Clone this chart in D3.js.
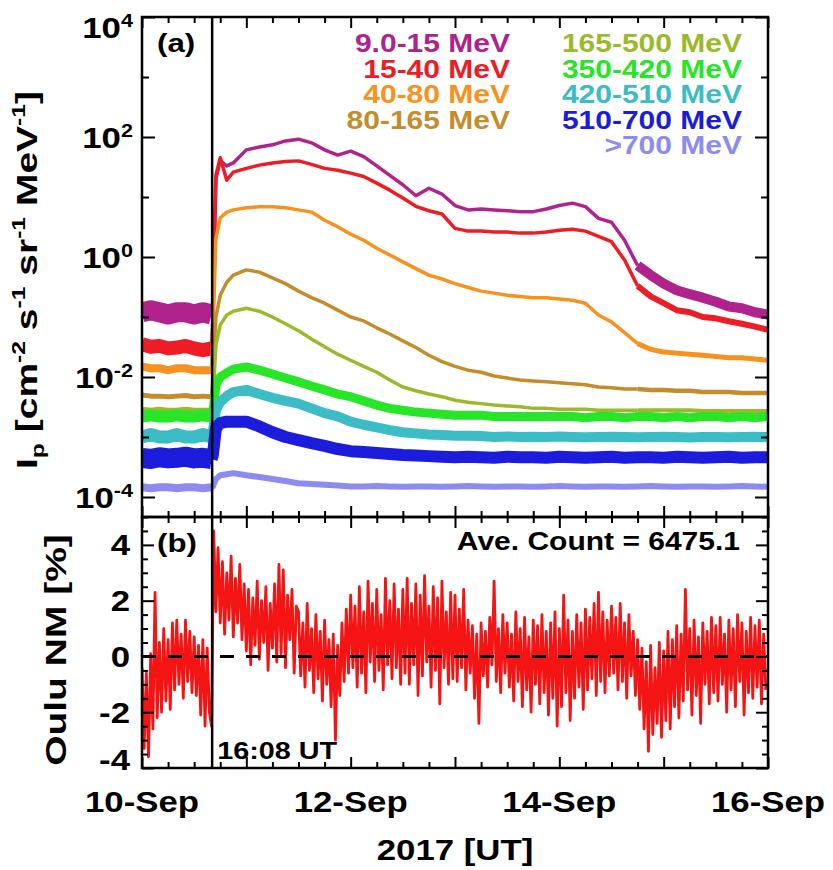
<!DOCTYPE html>
<html>
<head>
<meta charset="utf-8">
<script src="https://cdn.jsdelivr.net/npm/d3@7"></script>
<style>
  body { margin: 0; background: #fff; }
  svg { display: block; }
  text { font-family: "Liberation Sans", Arial, Helvetica, sans-serif; font-weight: bold; fill: #000; }
</style>
</head>
<body>
<svg id="chart" width="833" height="870"></svg>
<script>
// hours since 10-Sep-2017 00:00 UT
const hours = [0, 2, 4, 6, 8, 10, 12, 14, 16, 16.3, 17, 18, 19.5, 21,
  24, 27, 30, 33, 36, 39, 42, 45, 48, 51, 54, 57, 60, 63, 66, 69, 72, 75, 78, 81,
  84, 87, 90, 93, 96, 99, 102, 105, 108, 111, 114, 117, 120, 123, 126, 129, 132,
  135, 138, 141, 144];

// proton intensities, cm^-2 s^-1 sr^-1 MeV^-1
const p9to15 = [0.12, 0.13, 0.12, 0.11, 0.12, 0.12, 0.11, 0.12, 0.11, 0.2, 20, 40, 33, 37,
  61, 68, 74, 86, 92, 80, 61, 50, 58, 47, 33, 23, 16, 10.5, 14, 11.2, 7.2, 6.1, 6.3, 6.1,
  5.9, 5.7, 5.7, 6.3, 7.2, 7.9, 6.9, 4.4, 3.8, 1.9, 0.72, 0.5, 0.36, 0.28, 0.24, 0.21, 0.18,
  0.15, 0.14, 0.12, 0.11];
const p15to40 = [0.035, 0.032, 0.033, 0.030, 0.031, 0.033, 0.030, 0.028, 0.030, 0.1, 23, 45, 19, 26,
  30, 34, 37, 39, 40, 35, 30, 28, 25, 22, 17, 13, 9.6, 7.0, 5.9, 5.2, 3.0, 2.7, 2.7, 2.6,
  2.6, 2.5, 2.5, 2.6, 2.8, 2.9, 2.7, 2.2, 1.8, 0.89, 0.33, 0.22, 0.17, 0.13, 0.12, 0.10, 0.095,
  0.085, 0.077, 0.069, 0.061];
const p40to80 = [0.015, 0.014, 0.014, 0.013, 0.014, 0.014, 0.013, 0.013, 0.013, 0.05, 2.0, 4.5, 5.6, 6.1,
  6.6, 6.9, 6.9, 6.6, 6.1, 5.6, 4.1, 3.2, 2.4, 1.9, 1.4, 1.08, 0.83, 0.64, 0.50, 0.43, 0.36, 0.31, 0.27, 0.25,
  0.23, 0.22, 0.21, 0.21, 0.20, 0.19, 0.17, 0.108, 0.083, 0.055, 0.036, 0.029, 0.026, 0.025, 0.024, 0.023, 0.022,
  0.021, 0.021, 0.020, 0.019];
const p80to165 = [0.0050, 0.0048, 0.0048, 0.0047, 0.0048, 0.0049, 0.0047, 0.0048, 0.0047, 0.01, 0.1, 0.23, 0.38, 0.50,
  0.61, 0.56, 0.45, 0.36, 0.27, 0.21, 0.17, 0.13, 0.10, 0.086, 0.066, 0.052, 0.040, 0.031, 0.023, 0.018, 0.015, 0.013, 0.012, 0.0104,
  0.0096, 0.0089, 0.0086, 0.0083, 0.0080, 0.0077, 0.0074, 0.0068, 0.0066, 0.0063, 0.0063, 0.0061, 0.0061, 0.0059, 0.0059, 0.0056, 0.0056,
  0.0056, 0.0054, 0.0054, 0.0054];
const p165to500 = [0.0029, 0.0028, 0.0029, 0.0028, 0.0028, 0.0029, 0.0028, 0.0028, 0.0028, 0.004, 0.034, 0.074, 0.108, 0.125,
  0.14, 0.125, 0.10, 0.077, 0.059, 0.043, 0.032, 0.024, 0.019, 0.015, 0.012, 0.0089, 0.0068, 0.0059, 0.0052, 0.0047, 0.0041, 0.0038, 0.0036, 0.0034,
  0.0033, 0.0032, 0.0030, 0.0030, 0.0029, 0.0029, 0.0029, 0.0028, 0.0028, 0.0028, 0.0028, 0.0028, 0.0028, 0.0028, 0.0028, 0.0027, 0.0027,
  0.0027, 0.0027, 0.0027, 0.0027];
const p350to420 = [0.0022, 0.0023, 0.0022, 0.0022, 0.0023, 0.0022, 0.0022, 0.0023, 0.0022, 0.0025, 0.0074, 0.0100, 0.0118, 0.0135,
  0.0147, 0.013, 0.0112, 0.0096, 0.0083, 0.0071, 0.0061, 0.0052, 0.0047, 0.0040, 0.0034, 0.0030, 0.0028, 0.0026, 0.0025, 0.0024, 0.0023, 0.0023, 0.0023, 0.0022,
  0.0022, 0.0022, 0.0022, 0.0022, 0.0022, 0.0022, 0.0021, 0.0022, 0.0022, 0.0021, 0.0022, 0.0022, 0.0021, 0.0022, 0.0021, 0.0022, 0.0022,
  0.0021, 0.0022, 0.0021, 0.0022];
const p420to510 = [0.0010, 0.0011, 0.0010, 0.0010, 0.0011, 0.0010, 0.0010, 0.0011, 0.0010, 0.0012, 0.0028, 0.0038, 0.0048, 0.0056,
  0.0061, 0.0052, 0.0045, 0.0040, 0.0036, 0.0030, 0.0025, 0.0022, 0.0018, 0.0016, 0.00145, 0.0013, 0.0012, 0.00115, 0.0011, 0.00108, 0.00105, 0.00105, 0.00104, 0.0010,
  0.00102, 0.0010, 0.00101, 0.0010, 0.00102, 0.0010, 0.00099, 0.0010, 0.00101, 0.0010, 0.00099, 0.0010, 0.00101, 0.0010, 0.00098, 0.0010, 0.0010,
  0.00099, 0.0010, 0.00101, 0.0010];
const p510to700 = [4.5e-4, 4.3e-4, 4.6e-4, 4.4e-4, 4.5e-4, 4.7e-4, 4.4e-4, 4.5e-4, 4.3e-4, 5e-4, 1.4e-3, 1.7e-3, 1.8e-3, 1.8e-3,
  1.8e-3, 1.5e-3, 1.2e-3, 1.0e-3, 8.9e-4, 7.9e-4, 7.1e-4, 6.3e-4, 5.8e-4, 5.6e-4, 5.4e-4, 5.2e-4, 5.0e-4, 4.9e-4, 4.8e-4, 4.7e-4, 4.6e-4, 4.7e-4, 4.6e-4, 4.5e-4,
  4.7e-4, 4.6e-4, 4.6e-4, 4.5e-4, 4.7e-4, 4.6e-4, 4.5e-4, 4.6e-4, 4.7e-4, 4.5e-4, 4.6e-4, 4.6e-4, 4.5e-4, 4.7e-4, 4.6e-4, 4.5e-4, 4.6e-4,
  4.7e-4, 4.5e-4, 4.6e-4, 4.6e-4];
const p700up = [1.45e-4, 1.4e-4, 1.45e-4, 1.45e-4, 1.4e-4, 1.45e-4, 1.45e-4, 1.4e-4, 1.45e-4, 1.5e-4, 2.0e-4, 2.3e-4, 2.4e-4, 2.5e-4,
  2.3e-4, 2.15e-4, 2.0e-4, 1.85e-4, 1.7e-4, 1.65e-4, 1.6e-4, 1.55e-4, 1.5e-4, 1.5e-4, 1.52e-4, 1.5e-4, 1.48e-4, 1.5e-4, 1.5e-4, 1.48e-4, 1.5e-4, 1.52e-4, 1.5e-4, 1.48e-4,
  1.5e-4, 1.5e-4, 1.48e-4, 1.5e-4, 1.52e-4, 1.5e-4, 1.48e-4, 1.5e-4, 1.5e-4, 1.48e-4, 1.5e-4, 1.52e-4, 1.5e-4, 1.48e-4, 1.5e-4, 1.5e-4, 1.48e-4,
  1.5e-4, 1.52e-4, 1.5e-4, 1.48e-4];

const channelNames = ["9.0-15 MeV", "15-40 MeV", "40-80 MeV", "80-165 MeV", "165-500 MeV",
  "350-420 MeV", "420-510 MeV", "510-700 MeV", ">700 MeV"];

// Oulu neutron monitor, % deviation from the average, every 30 min from 10-Sep 00:00
const ouluNM = [
  -0.4, -3.3, -0.6, -3.6, 0.1, -2.6, 2.3, -2.2, 0.5, -2.0, 1.0, -1.6, 0.6, -1.9, 1.2, -1.2, 1.3, -1.0, 0.8, -1.5, 1.3, -0.9, 0.9, -1.3,
  0.7, -1.4, 0.4, -2.1, 0.6, -2.5, 0.3, -2.0, -2.5, 4.5, 1.6, 3.9, 1.2, 3.4, 0.8, 3.0, 1.3, 3.6, 0.7, 2.8, 1.2, 3.3, 0.6, 2.6,
  0.2, 2.4, -0.3, 2.1, 0.4, 2.7, -0.1, 2.0, 0.5, 2.5, -0.5, 1.9, 0.3, 2.6, -0.2, 3.3, 0.1, 3.1, -0.4, 2.2, 0.6, 2.4, -0.6, 1.8,
  1.6, -0.7, 1.2, -1.1, 1.9, -0.5, 1.0, -1.3, 1.5, -0.8, 0.9, -1.6, 1.3, -1.0, 0.6, -1.8, 0.8, -3.0, 0.4, -1.4, 1.2, -0.9, 1.7, -0.6,
  2.2, -0.4, 1.8, -1.1, 2.5, -0.6, 1.6, -1.3, 2.7, -0.2, 1.9, -0.9, 2.4, -0.5, 1.5, -1.2, 2.8, -0.3, 2.0, -0.8, 2.6, -0.4, 1.7, -1.0,
  2.4, -0.6, 2.8, -1.0, 1.9, -0.3, 2.6, -1.4, 2.2, -0.7, 2.9, -0.2, 1.8, -1.1, 2.5, -0.5, 2.1, -1.7, 2.7, -0.4, 1.6, -1.0, 2.3, -0.8,
  2.2, -0.9, 1.7, -0.4, 2.4, -1.2, 1.3, -0.6, 1.1, -1.5, 0.8, -2.4, 1.2, -0.7, 0.9, -1.1, 1.4, -0.3, 2.7, -0.9, 1.0, -1.3, 1.5, -0.6,
  1.2, -1.1, 0.8, -1.6, 1.6, -0.9, 1.0, -1.8, 1.4, -1.2, 0.7, -2.0, 1.3, -1.0, 1.1, -1.7, 1.5, -1.3, 0.9, -2.1, 1.2, -1.5, 1.6, -2.5,
  1.0, -1.8, 2.2, -1.3, 1.3, -2.3, 0.9, -1.5, 1.5, -1.1, 1.2, -1.9, 1.7, -1.2, 1.4, -0.8, 1.9, -1.4, 2.3, -0.9, 1.6, -1.3, 1.3, -0.7,
  1.8, -0.6, 1.4, -1.2, 1.9, -0.9, 1.2, -1.5, 1.5, -0.7, 0.9, -1.4, 0.6, -1.9, 0.3, -2.6, -0.2, -3.4, 0.4, -2.8, -0.4, -2.4, 0.5, -2.9,
  0.2, -2.3, 0.9, -2.6, 0.6, -1.8, 1.1, -2.2, 0.8, -1.6, 2.4, -1.2, 1.0, -2.1, 1.3, -1.4, 0.7, -2.4, 1.2, -1.0, 0.9, -1.7, 1.4, -1.3,
  1.1, -1.6, 1.4, -1.0, 0.8, -2.0, 1.3, -1.2, 1.0, -1.8, 1.5, -0.9, 1.2, -2.1, 0.9, -1.3, 1.4, -1.5, 1.1, -1.1, 1.3, -1.7, 0.8, -1.2
];
const nmStep = 0.5; // hours between NM samples
const aveCount = "6475.1";

const dayLabels = ["10-Sep", "12-Sep", "14-Sep", "16-Sep"];
const onsetHour = 16 + 8 / 60;

// styles
const colors = ["#b0228c", "#ee1c25", "#f7921e", "#c28d2a", "#9cb92c", "#27e627", "#3cbcc4", "#1c1cdc", "#8c8cf0"];
// stroke widths: before onset, after onset, late (noisier) part
const widths = [[20, 3.5, 10], [14, 3.5, 6], [8, 3.5, 5], [5, 3.5, 4.5], [5, 3.5, 4],
  [12, 9, 9], [13, 10, 10], [20, 12, 12], [8, 6, 6]];
const lateHour = 114;
const SX = 1.2;   // horizontal stretch of the lettering
const SXV = 1.3;  // stretch of the rotated titles

const L = 142, R = 768, T = 17, MID = 517, B = 768;

const svg = d3.select("#chart");

const x = d3.scaleLinear().domain([0, 144]).range([L, R]);
const yTop = d3.scaleLog().domain([Math.pow(10, -13 / 3), 1e4]).range([MID, T]);
const yBot = d3.scaleLinear().domain([-4, 5]).range([B, MID]);

const defs = svg.append("defs");
defs.append("clipPath").attr("id", "clipTop").append("rect")
  .attr("x", L).attr("y", T).attr("width", R - L).attr("height", MID - T);
defs.append("clipPath").attr("id", "clipBot").append("rect")
  .attr("x", L).attr("y", MID).attr("width", R - L).attr("height", B - MID);

function addText(parent, px, py, str, size, anchor, rot, sx) {
  return parent.append("text")
    .attr("transform", "translate(" + px + "," + py + ")" + (rot ? " rotate(" + rot + ")" : "") + " scale(" + (sx || SX) + ",1)")
    .attr("text-anchor", anchor || "start")
    .attr("font-size", size)
    .text(str);
}

// ---- panel (a): proton intensities
const fluxes = [p9to15, p15to40, p40to80, p80to165, p165to500, p350to420, p420to510, p510to700, p700up];
const line = d3.line().x(d => x(d[0])).y(d => yTop(d[1]));
const gTop = svg.append("g").attr("clip-path", "url(#clipTop)");

fluxes.forEach(function (vals, k) {
  const pts = hours.map((h, i) => [h, vals[i]]);
  const w = widths[k];
  const split = w[1] !== w[2];
  const parts = [
    [pts.filter(d => d[0] <= 16), w[0]],
    [pts.filter(d => d[0] >= 16 && (!split || d[0] <= lateHour)), w[1]]
  ];
  if (split) parts.push([pts.filter(d => d[0] >= lateHour), w[2]]);
  parts.forEach(function (p) {
    gTop.append("path")
      .attr("d", line(p[0]))
      .attr("fill", "none")
      .attr("stroke", colors[k])
      .attr("stroke-width", p[1])
      .attr("stroke-linejoin", "round");
  });
});

// legend
channelNames.forEach(function (name, k) {
  const col = k < 4 ? 0 : 1;
  const row = k < 4 ? k : k - 4;
  addText(svg, col ? 742 : 510, 52 + row * 25.5, name, 25, "end").style("fill", colors[k]);
});
addText(svg, 157, 52, "(a)", 26, "start");

// ---- panel (b): Oulu neutron monitor
const gBot = svg.append("g").attr("clip-path", "url(#clipBot)");
gBot.append("path")
  .attr("d", d3.line().x((d, i) => x(i * nmStep)).y(d => yBot(d))(ouluNM))
  .attr("fill", "none")
  .attr("stroke", "#f41414")
  .attr("stroke-width", 2.8)
  .attr("stroke-linejoin", "round");

svg.append("line")
  .attr("x1", L).attr("x2", R).attr("y1", yBot(0)).attr("y2", yBot(0))
  .attr("stroke", "#000").attr("stroke-width", 3).attr("stroke-dasharray", "14,12");

addText(svg, 157, 552, "(b)", 26, "start");
addText(svg, 740, 550, "Ave. Count = " + aveCount, 25, "end");

// onset line
svg.append("line")
  .attr("x1", x(onsetHour)).attr("x2", x(onsetHour)).attr("y1", T).attr("y2", B)
  .attr("stroke", "#000").attr("stroke-width", 2.5);
addText(svg, x(onsetHour) + 5, 759, "16:08 UT", 24, "start");

// ---- axes
const dayTicks = d3.range(0, 145, 24);
const sixHourTicks = d3.range(0, 145, 6).filter(h => h % 24 !== 0);
const decades = d3.range(-4, 5);

function tickAxis(axis, tx, ty) {
  const g = svg.append("g").attr("transform", "translate(" + tx + "," + ty + ")").call(axis);
  g.select(".domain").remove();
  g.selectAll("text").remove();
  g.selectAll("line").attr("stroke", "#000").attr("stroke-width", 2);
  return g;
}

// x ticks for both panels, pointing inward
[[MID, d3.axisBottom], [T, d3.axisTop], [MID, d3.axisTop], [B, d3.axisBottom]].forEach(function (a) {
  tickAxis(a[1](x).tickValues(dayTicks).tickSize(-11), 0, a[0]);
  tickAxis(a[1](x).tickValues(sixHourTicks).tickSize(-6), 0, a[0]);
});

// y ticks panel (a)
const evenDec = decades.filter(e => e % 2 === 0).map(e => Math.pow(10, e));
const oddDec = decades.filter(e => e % 2 !== 0).map(e => Math.pow(10, e));
tickAxis(d3.axisLeft(yTop).tickValues(evenDec).tickSize(-13), L, 0);
tickAxis(d3.axisLeft(yTop).tickValues(oddDec).tickSize(-7), L, 0);
tickAxis(d3.axisRight(yTop).tickValues(evenDec).tickSize(-13), R, 0);
tickAxis(d3.axisRight(yTop).tickValues(oddDec).tickSize(-7), R, 0);

// y ticks panel (b)
const nmMajor = [-4, -2, 0, 2, 4];
const nmMinor = d3.range(-3.5, 5.01, 0.5).filter(v => v % 2 !== 0);
tickAxis(d3.axisLeft(yBot).tickValues(nmMajor).tickSize(-12), L, 0);
tickAxis(d3.axisLeft(yBot).tickValues(nmMinor).tickSize(-6), L, 0);
tickAxis(d3.axisRight(yBot).tickValues(nmMajor).tickSize(-12), R, 0);
tickAxis(d3.axisRight(yBot).tickValues(nmMinor).tickSize(-6), R, 0);

// frames
[[T, MID], [MID, B]].forEach(function (p) {
  svg.append("rect").attr("x", L).attr("y", p[0]).attr("width", R - L).attr("height", p[1] - p[0])
    .attr("fill", "none").attr("stroke", "#000").attr("stroke-width", 2.5);
});

// ---- tick labels
decades.filter(e => e % 2 === 0).forEach(function (e) {
  const yy = Math.max(yTop(Math.pow(10, e)), T + 10) + 10.5;
  const t = addText(svg, 133, yy, "10", 29, "end");
  t.append("tspan").attr("dy", -11).attr("font-size", 18).text(String(e));
});
nmMajor.forEach(function (v) {
  const yy = Math.min(yBot(v), B - 9) + 10.5;
  addText(svg, 130, yy, String(v), 29, "end");
});
dayLabels.forEach(function (lab, i) {
  addText(svg, x(i * 48), 812, lab, 29, "middle");
});
addText(svg, (L + R) / 2, 860, "2017 [UT]", 29, "middle");

// ---- axis titles
const ttl = svg.append("text")
  .attr("transform", "translate(37,280) rotate(-90) scale(" + SXV + ",1)")
  .attr("text-anchor", "middle").attr("font-size", 30);
[["I", 0, 30], ["p", 7, 19], [" [cm", -7, 30], ["-2", -12, 19], [" s", 12, 30], ["-1", -12, 19],
 [" sr", 12, 30], ["-1", -12, 19], [" MeV", 12, 30], ["-1", -12, 19], ["]", 12, 30]].forEach(function (p) {
  ttl.append("tspan").attr("dy", p[1]).attr("font-size", p[2]).text(p[0]);
});
addText(svg, 66, 650, "Oulu NM [%]", 30, "middle", -90, SXV);
</script>
</body>
</html>
